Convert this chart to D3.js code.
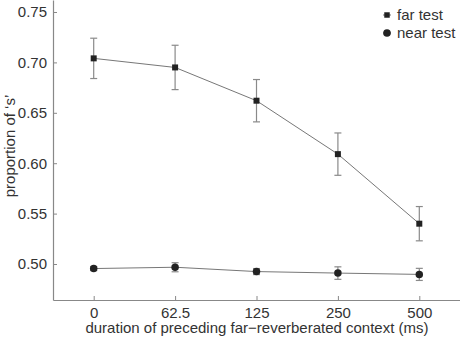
<!DOCTYPE html>
<html>
<head>
<meta charset="utf-8">
<script src="https://cdn.jsdelivr.net/npm/d3@7"></script>
<style>
  body { margin: 0; background: #fff; }
  text { font-family: "Liberation Sans", Arial, sans-serif; fill: #333; }
</style>
</head>
<body>
<svg id="chart" width="460" height="339"></svg>
<script>
// chart data
var durations = ["0", "62.5", "125", "250", "500"];
var farMean = [0.704, 0.695, 0.662, 0.609, 0.540];
var farErr = [0.020, 0.022, 0.021, 0.021, 0.017];
var nearMean = [0.4955, 0.4968, 0.4925, 0.4910, 0.4897];
var nearErr = [0.002, 0.0045, 0.003, 0.0062, 0.006];
var yTicks = [0.50, 0.55, 0.60, 0.65, 0.70, 0.75];
var seriesNames = ["far test", "near test"];

var svg = d3.select("svg#chart");

var x = d3.scalePoint().domain(durations).range([53, 460]).padding(0.5);
var y = d3.scaleLinear().domain([0.4643, 0.7619]).range([300, 0]);

// axes
var yAxis = svg.append("g")
    .attr("transform", "translate(53,0)")
    .call(d3.axisLeft(y).tickValues(yTicks).tickFormat(d3.format(".2f")).tickSizeInner(-4).tickSizeOuter(0).tickPadding(6));
var xAxis = svg.append("g")
    .attr("transform", "translate(0,300)")
    .call(d3.axisBottom(x).tickSizeInner(-4).tickSizeOuter(0).tickPadding(7));

[yAxis, xAxis].forEach(function(ax){
    ax.selectAll("path.domain").attr("stroke", "#888").attr("stroke-width", 1.2);
    ax.selectAll(".tick line").attr("stroke", "#888");
    ax.selectAll(".tick text").style("font-size", "15px").attr("fill", "#333");
});

svg.append("text")
    .attr("x", 257).attr("y", 333)
    .attr("text-anchor", "middle")
    .style("font-size", "15px")
    .text("duration of preceding far\u2212reverberated context (ms)");

svg.append("text")
    .attr("transform", "translate(15,146) rotate(-90)")
    .attr("text-anchor", "middle")
    .style("font-size", "15px")
    .text("proportion of \u2018s\u2019");

var drawSeries = function(means, errs, shape){
    var pts = durations.map(function(d, i){ return {k: d, m: means[i], e: errs[i]}; });
    var g = svg.append("g");
    g.append("path")
        .datum(pts)
        .attr("fill", "none")
        .attr("stroke", "#777")
        .attr("stroke-width", 1)
        .attr("d", d3.line().x(function(d){return x(d.k);}).y(function(d){return y(d.m);}));
    var eb = g.selectAll("g.err").data(pts).enter().append("g").attr("class", "err")
        .attr("stroke", "#8a8a8a").attr("stroke-width", 1.2);
    eb.append("line")
        .attr("x1", function(d){return x(d.k);}).attr("x2", function(d){return x(d.k);})
        .attr("y1", function(d){return y(d.m - d.e);}).attr("y2", function(d){return y(d.m + d.e);});
    eb.append("line")
        .attr("x1", function(d){return x(d.k) - 3.5;}).attr("x2", function(d){return x(d.k) + 3.5;})
        .attr("y1", function(d){return y(d.m + d.e);}).attr("y2", function(d){return y(d.m + d.e);});
    eb.append("line")
        .attr("x1", function(d){return x(d.k) - 3.5;}).attr("x2", function(d){return x(d.k) + 3.5;})
        .attr("y1", function(d){return y(d.m - d.e);}).attr("y2", function(d){return y(d.m - d.e);});
    var sym = d3.symbol().type(shape === "square" ? d3.symbolSquare : d3.symbolCircle)
        .size(shape === "square" ? 36 : 44);
    g.selectAll("path.mark").data(pts).enter().append("path").attr("class", "mark")
        .attr("transform", function(d){return "translate(" + x(d.k) + "," + y(d.m) + ")";})
        .attr("d", sym)
        .attr("fill", "#222");
};

drawSeries(farMean, farErr, "square");
drawSeries(nearMean, nearErr, "circle");

// legend
var legend = svg.append("g").attr("transform", "translate(387,15)");
seriesNames.forEach(function(name, i){
    var row = legend.append("g").attr("transform", "translate(0," + (i * 18) + ")");
    row.append("line").attr("x1", -4).attr("x2", 4).attr("stroke", "#777");
    row.append("path")
        .attr("d", d3.symbol().type(i === 0 ? d3.symbolSquare : d3.symbolCircle).size(i === 0 ? 30 : 46))
        .attr("fill", "#222");
    row.append("text").attr("x", 10).attr("y", 5)
        .style("font-size", "15px")
        .text(name);
});
</script>
</body>
</html>
